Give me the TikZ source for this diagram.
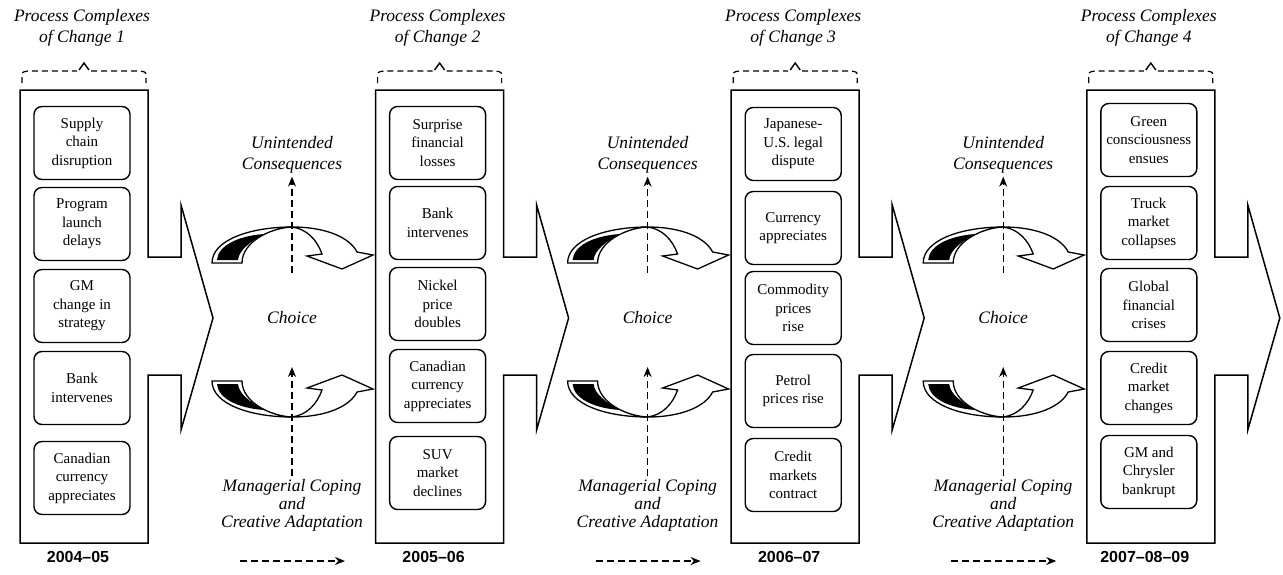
\documentclass[tikz,border=0pt]{standalone}
\usepackage{fontspec}
\setmainfont{Liberation Serif}
\setsansfont{Liberation Sans}
\usepackage{tikz}
\usetikzlibrary{arrows.meta}
\tikzset{
  evt/.style={draw, line width=1.4pt, rounded corners=8pt, minimum width=96pt,
    minimum height=73pt, align=center, inner sep=2pt, font=\fontsize{15}{18.5}\selectfont},
  ttl/.style={align=center, inner sep=3pt, font=\fontsize{17.5}{21}\selectfont\itshape},
  yr/.style={font=\fontsize{16}{19}\selectfont\sffamily\bfseries},
  dasharr/.style={line width=1.2pt, dash pattern=on 7pt off 4pt,
    -{Stealth[length=10pt,width=8pt]}},
  twist/.pic={
    % back of the ribbon
    \draw[line width=1.3pt, fill=white] (-80,-59) .. controls (-80,-82) and (-42,-95) .. (0,-95)
      .. controls (-22,-94) and (-50,-80) .. (-50,-59) -- cycle;
    \fill (-75,-62) .. controls (-74,-76) and (-55,-86) .. (-28,-88)
      .. controls (-42,-80) and (-53,-72) .. (-54,-62) -- cycle;
    % front of the ribbon with its head
    \draw[line width=1.3pt, fill=white, line join=miter] (0,-95) .. controls (35,-95) and (58,-84) .. (65,-70)
      -- (81,-67) -- (50,-53) -- (15,-66) -- (30,-68)
      .. controls (25,-82) and (15,-93) .. (0,-95) -- cycle;
  }
}

\begin{document}
\begin{tikzpicture}[x=1pt, y=-1pt]
  \useasboundingbox (0,0) rectangle (1283,574);

  % the four period arrows
  \foreach \c/\x/\yr in {1/20/2004--05, 2/375.6/2005--06, 3/731.2/2006--07, 4/1086.8/2007--08--09} {
    \draw[line width=1.5pt, line join=miter, fill=white] (\x,90) -- ++(128,0) -- ++(0,167)
      -- ++(33,0) -- ++(0,-52) -- ++(32,113) -- ++(-32,112) -- ++(0,-55)
      -- ++(-33,0) -- ++(0,168) -- ++(-128,0) -- cycle;
    \draw[line width=1.2pt, dash pattern=on 6pt off 4pt] (\x+2,83) -- (\x+2,77)
      .. controls (\x+2,72) .. (\x+8,71) -- (\x+57,71);
    \draw[line width=1.2pt, dash pattern=on 6pt off 4pt] (\x+71,71) -- (\x+120,71)
      .. controls (\x+126,72) .. (\x+126,77) -- (\x+126,83);
    \draw[line width=1.4pt] (\x+59,70) -- (\x+64,63) -- (\x+69,70);
    \node[ttl] (ttl\c) at (\x+62,28) {Process Complexes\\of Change \c};
    \node[yr] (yr\c) at (\x+58,557) {\yr};
  }

  % events of each period
  \node[evt] (a1) at (82,143) {Supply\\chain\\disruption};
  \node[evt] (a2) at (82,224) {Program\\launch\\delays};
  \node[evt] (a3) at (82,306) {GM\\change in\\strategy};
  \node[evt] (a4) at (82,388) {Bank\\intervenes};
  \node[evt] (a5) at (82,478) {Canadian\\currency\\appreciates};

  \node[evt] (b1) at (437.6,143) {Surprise\\financial\\losses};
  \node[evt] (b2) at (437.6,223) {Bank\\intervenes};
  \node[evt] (b3) at (437.6,304) {Nickel\\price\\doubles};
  \node[evt] (b4) at (437.6,386) {Canadian\\currency\\appreciates};
  \node[evt] (b5) at (437.6,473) {SUV\\market\\declines};

  \node[evt] (c1) at (793.2,144) {Japanese-\\U.S. legal\\dispute};
  \node[evt] (c2) at (793.2,228) {Currency\\appreciates};
  \node[evt] (c3) at (793.2,308) {Commodity\\prices\\rise};
  \node[evt] (c4) at (793.2,391) {Petrol\\prices rise};
  \node[evt] (c5) at (793.2,475) {Credit\\markets\\contract};

  \node[evt] (d1) at (1148.8,140) {Green\\consciousness\\ensues};
  \node[evt] (d2) at (1148.8,223) {Truck\\market\\collapses};
  \node[evt] (d3) at (1148.8,305) {Global\\financial\\crises};
  \node[evt] (d4) at (1148.8,388) {Credit\\market\\changes};
  \node[evt] (d5) at (1148.8,472) {GM and\\Chrysler\\bankrupt};

  % choice between periods
  \foreach \c/\x in {1/20, 2/375.6, 3/731.2} {
    \node[ttl] (uc\c) at (\x+272,155) {Unintended\\Consequences};
    \node[ttl] (ch\c) at (\x+272,318) {Choice};
    \node[ttl, font=\fontsize{17.5}{18}\selectfont\itshape] (mc\c) at (\x+272,505)
      {Managerial Coping\\and\\Creative Adaptation};
    \pic at (\x+272,322) {twist};
    \pic[yscale=-1] at (\x+272,322) {twist};
    \coordinate (up\c) at (\x+272,273);
    \coordinate (dn\c) at (\x+272,367);
    \draw[dasharr] (up\c) -- (uc\c);
    \draw[dasharr] (mc\c) -- (dn\c);
    \coordinate (ts\c) at (\x+220,561);
    \coordinate (te\c) at (\x+325,561);
    \draw[dasharr] (ts\c) -- (te\c);
  }
\end{tikzpicture}
\end{document}
